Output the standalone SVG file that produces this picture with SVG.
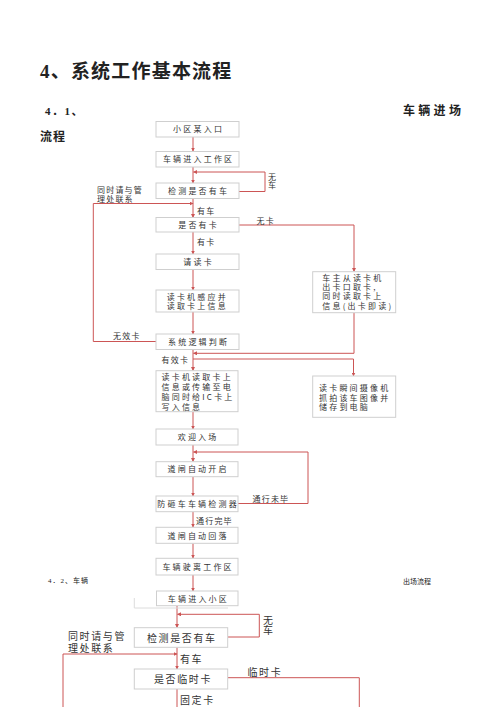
<svg xmlns="http://www.w3.org/2000/svg" width="500" height="707" viewBox="0 0 500 707">
<defs>
<marker id="ah" markerWidth="4" markerHeight="4" refX="3.5" refY="2" orient="auto" markerUnits="userSpaceOnUse">
<path d="M0,0 L4,2 L0,4 z" fill="#cc5555"/>
</marker>
<style>
.bx{fill:#fff;stroke:#cfcfcf;stroke-width:1}
.t{font-family:"Noto Sans CJK SC","Noto Sans",sans-serif;fill:#333;font-size:8px;letter-spacing:2.2px}
.tm{text-anchor:middle}
.lb{font-family:"Noto Sans CJK SC","Noto Sans",sans-serif;fill:#333;font-size:8px;letter-spacing:1.2px}
.t2{font-family:"Noto Sans CJK SC","Noto Sans",sans-serif;fill:#333;font-size:10px;letter-spacing:1.6px}
.vt{writing-mode:vertical-rl;letter-spacing:0}
.ln{fill:none;stroke:#cc5555;stroke-width:1}
.ar{marker-end:url(#ah)}
.hd{font-family:"Liberation Serif","Noto Sans CJK SC",serif;fill:#222}
</style>
</defs>
<rect width="500" height="707" fill="#fff"/>
<text class="hd" x="40" y="78" font-size="19" font-weight="bold" letter-spacing="1.2">4、系统工作基本流程</text>
<text class="hd" x="45" y="115" font-size="11" font-weight="bold" letter-spacing="1.5">4．1、</text>
<text class="hd" x="403" y="115" font-size="12" font-weight="bold" letter-spacing="3.3">车辆进场</text>
<text class="hd" x="40" y="141" font-size="12" font-weight="bold" letter-spacing="1">流程</text>
<text class="hd" x="48" y="583" font-size="7" letter-spacing="1">4．2、车辆</text>
<text class="hd" x="403" y="584" font-size="7">出场流程</text>

<g id="connectors">
<path class="ln ar" d="M193,137 V151"/>
<path class="ln ar" d="M193,167 V183"/>
<path class="ln ar" d="M193,198 V217.5"/>
<path class="ln ar" d="M193,232 V254"/>
<path class="ln ar" d="M193,269.5 V290"/>
<path class="ln ar" d="M193,312 V334"/>
<path class="ln ar" d="M193,349 V370.5"/>
<path class="ln ar" d="M193,412 V429"/>
<path class="ln ar" d="M193,445 V461.5"/>
<path class="ln ar" d="M193,477 V496"/>
<path class="ln ar" d="M193,512 V527"/>
<path class="ln ar" d="M193,543.5 V558"/>
<path class="ln ar" d="M193,575 V591"/>
<path class="ln ar" d="M239,191.5 H265 V172 H193.5"/>
<path class="ln ar" d="M156,341.5 H93.3 V203.5 H193"/>
<path class="ln ar" d="M239,225 H354 V271.5"/>
<path class="ln ar" d="M354,312.7 V353.3 H193.5"/>
<path class="ln ar" d="M193,359 H353.5 V376"/>
<path class="ln ar" d="M238,503.5 H308 V452 H193.5"/>
<path class="ln ar" d="M177,606 V627.5"/>
<path class="ln ar" d="M228,637 H259.3 V614.3 H177.5"/>
<path class="ln ar" d="M177,647.5 V669"/>
<path class="ln ar" d="M63,707 V654 H177"/>
<path class="ln" d="M228,677.7 H359.3 V707"/>
<path class="ln" d="M177,689 V707"/>
</g>

<g id="labels">
<text class="lb vt" x="272" y="173">无车</text>
<text class="lb" font-size="7.5" letter-spacing="1.5"><tspan x="97" y="193">同时请与管</tspan><tspan x="97" y="202">理处联系</tspan></text>
<text class="lb" x="197" y="213.5">有车</text>
<text class="lb" x="256.5" y="223.5">无卡</text>
<text class="lb" x="197" y="245">有卡</text>
<text class="lb" x="113" y="339">无效卡</text>
<text class="lb" x="161.5" y="363">有效卡</text>
<text class="lb" x="252.5" y="501.5">通行未毕</text>
<text class="lb" x="196" y="524">通行完毕</text>
<text class="t2 vt" x="268" y="615">无车</text>
<text class="t2"><tspan x="68" y="640">同时请与管</tspan><tspan x="68" y="651.5">理处联系</tspan></text>
<text class="t2" x="180" y="663">有车</text>
<text class="t2" x="247.5" y="675.5">临时卡</text>
<text class="t2" x="180" y="703.5">固定卡</text>
</g>

<g id="n1"><rect class="bx" x="156" y="121.5" width="83" height="15.5"/><text class="t tm" x="198.6" y="132.3">小区某入口</text></g>
<g id="n2"><rect class="bx" x="156" y="151.5" width="83" height="15.5"/><text class="t tm" x="198.6" y="162.3">车辆进入工作区</text></g>
<g id="n3"><rect class="bx" x="156" y="183" width="83" height="15.5"/><text class="t tm" x="198.6" y="193.8">检测是否有车</text></g>
<g id="n4"><rect class="bx" x="156" y="217.5" width="83" height="14.5"/><text class="t tm" x="198.6" y="227.8">是否有卡</text></g>
<g id="n5"><rect class="bx" x="156" y="254" width="83" height="15.5"/><text class="t tm" x="198.6" y="264.8">请读卡</text></g>
<g id="n6"><rect class="bx" x="156" y="290" width="83" height="22"/><text class="t"><tspan x="166.7" y="300">读卡机感应并</tspan><tspan x="166.7" y="309.3">读取卡上信息</tspan></text></g>
<g id="n7"><rect class="bx" x="156" y="334" width="83" height="15.5"/><text class="t tm" x="198.6" y="344.8">系统逻辑判断</text></g>
<g id="n8"><rect class="bx" x="156" y="370.7" width="82" height="41"/><text class="t"><tspan x="161.5" y="380">读卡机读取卡上</tspan><tspan x="161.5" y="390">信息或传输至电</tspan><tspan x="161.5" y="400">脑同时给IC卡上</tspan><tspan x="161.5" y="410">写入信息</tspan></text></g>
<g id="n9"><rect class="bx" x="156" y="429" width="82" height="16"/><text class="t tm" x="198.1" y="440.2">欢迎入场</text></g>
<g id="n10"><rect class="bx" x="156" y="461.7" width="82" height="15"/><text class="t tm" x="198.1" y="472.3">道闸自动开启</text></g>
<g id="n11"><rect class="bx" x="156" y="496" width="82" height="15.7"/><text class="t tm" x="198.1" y="507">防砸车车辆检测器</text></g>
<g id="n12"><rect class="bx" x="156" y="527.3" width="82" height="16"/><text class="t tm" x="198.1" y="538.5">道闸自动回落</text></g>
<g id="n13"><rect class="bx" x="156" y="558.3" width="82" height="16.7"/><text class="t tm" x="198.1" y="570">车辆驶离工作区</text></g>
<g id="n15"><path d="M134.3,598 V608 H228" fill="none" stroke="#dcdcdc" stroke-width="1"/></g>
<g id="n14"><rect class="bx" x="156.5" y="591" width="81.5" height="14.7"/><text class="t tm" x="198.4" y="601.8">车辆进入小区</text></g>
<g id="n16"><rect class="bx" x="312.7" y="271.7" width="83" height="41"/><text class="t"><tspan x="322.3" y="281">车主从读卡机</tspan><tspan x="322.3" y="290.3">出卡口取卡,</tspan><tspan x="322.3" y="299.3">同时读取卡上</tspan><tspan x="322.3" y="308.8">信息(出卡即读)</tspan></text></g>
<g id="n17"><rect class="bx" x="312.7" y="376" width="83" height="41.3"/><text class="t"><tspan x="319" y="391.3">读卡瞬间摄像机</tspan><tspan x="319" y="401.3">抓拍该车图像并</tspan><tspan x="319" y="410.3">储存到电脑</tspan></text></g>
<g id="n18"><rect class="bx" x="134.3" y="627.7" width="93.4" height="19.6"/><text class="t2 tm" x="181.8" y="641.5">检测是否有车</text></g>
<g id="n19"><rect class="bx" x="134.3" y="669" width="93.4" height="20"/><text class="t2 tm" x="183" y="683">是否临时卡</text></g>
</svg>
